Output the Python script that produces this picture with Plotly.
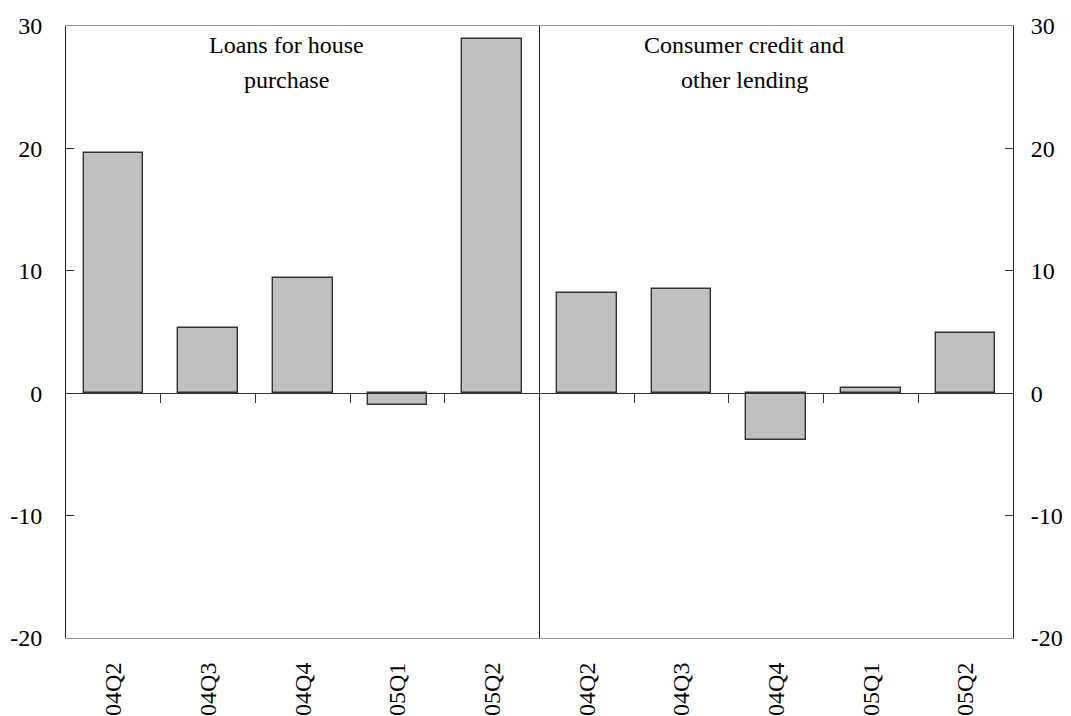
import plotly.graph_objects as go

categories = ["04Q2", "04Q3", "04Q4", "05Q1", "05Q2",
              "04Q2", "04Q3", "04Q4", "05Q1", "05Q2"]
house_values = [19.6, 5.35, 9.45, -0.95, 28.9]
consumer_values = [8.2, 8.5, -3.8, 0.4, 4.95]
values = house_values + consumer_values
y_ticks = [-20, -10, 0, 10, 20, 30]
y_tick_text = ["-20", "-10", "0", "10", "20", "30"]
panel_titles = [("Loans for house", "purchase"), ("Consumer credit and", "other lending")]

xpos = list(range(len(categories)))
FONT = "Liberation Serif, Times New Roman, serif"
FS = 24

fig = go.Figure()
fig.add_trace(go.Bar(
    x=xpos, y=values, width=0.63,
    marker=dict(color="#c0c0c0", line=dict(color="#333333", width=1.4)),
    showlegend=False, hoverinfo="skip",
))
fig.add_trace(go.Scatter(x=[0], y=[0], yaxis="y2", mode="markers",
                         marker=dict(opacity=0), showlegend=False, hoverinfo="skip"))
fig.add_trace(go.Scatter(x=[0], y=[0], xaxis="x2", mode="markers",
                         marker=dict(opacity=0), showlegend=False, hoverinfo="skip"))

yr = [-20, 30]
xr = [-0.5, 9.5]
zero_pos = (0 - yr[0]) / (yr[1] - yr[0])

fig.update_layout(
    width=1071, height=716,
    margin=dict(l=66, r=58, t=26, b=78, autoexpand=False),
    plot_bgcolor="white", paper_bgcolor="white",
    font=dict(family=FONT, size=FS, color="black"),
    bargap=0,
    xaxis=dict(
        range=xr, tickmode="array", tickvals=xpos, ticktext=categories,
        tickangle=-90, ticks="", showgrid=False, zeroline=False, automargin=False,
        showline=True, linecolor="#999999", linewidth=1, mirror=True,
        tickfont=dict(family=FONT, size=FS), ticklabelstandoff=14,
    ),
    xaxis2=dict(
        range=xr, overlaying="x", anchor="free", position=zero_pos, side="bottom",
        showline=True, linecolor="#333333", linewidth=1.2, automargin=False,
        tickmode="array", tickvals=[0.5, 1.5, 2.5, 3.5, 5.5, 6.5, 7.5, 8.5],
        ticks="outside", ticklen=9, tickcolor="#333333", tickwidth=1,
        showticklabels=False, showgrid=False, zeroline=False,
    ),
    yaxis=dict(
        range=yr, tickmode="array", tickvals=y_ticks, ticktext=y_tick_text,
        ticks="inside", ticklen=8, tickcolor="#333333", automargin=False,
        showline=True, linecolor="#222222", linewidth=1, showgrid=False,
        zeroline=False, ticklabelstandoff=18, tickfont=dict(family=FONT, size=FS),
    ),
    yaxis2=dict(
        range=yr, tickmode="array", tickvals=y_ticks, ticktext=y_tick_text,
        ticks="inside", ticklen=8, tickcolor="#333333", automargin=False,
        overlaying="y", side="right", anchor="x",
        showline=True, linecolor="#222222", linewidth=1, showgrid=False,
        zeroline=False, ticklabelstandoff=12, tickfont=dict(family=FONT, size=FS),
    ),
    shapes=[dict(type="line", xref="x", yref="y", x0=4.5, x1=4.5, y0=yr[0], y1=yr[1],
                 line=dict(color="#222222", width=1))],
)

ann_x = [1.83, 6.66]
for (l1, l2), ax in zip(panel_titles, ann_x):
    fig.add_annotation(x=ax, y=30, xref="x", yref="y", text=l1, showarrow=False,
                       yanchor="middle", yshift=-19, font=dict(family=FONT, size=FS))
    fig.add_annotation(x=ax, y=30, xref="x", yref="y", text=l2, showarrow=False,
                       yanchor="middle", yshift=-54, font=dict(family=FONT, size=FS))

fig.write_html("out.html", config={"displayModeBar": False},
               post_script="document.body.style.margin='0';")
